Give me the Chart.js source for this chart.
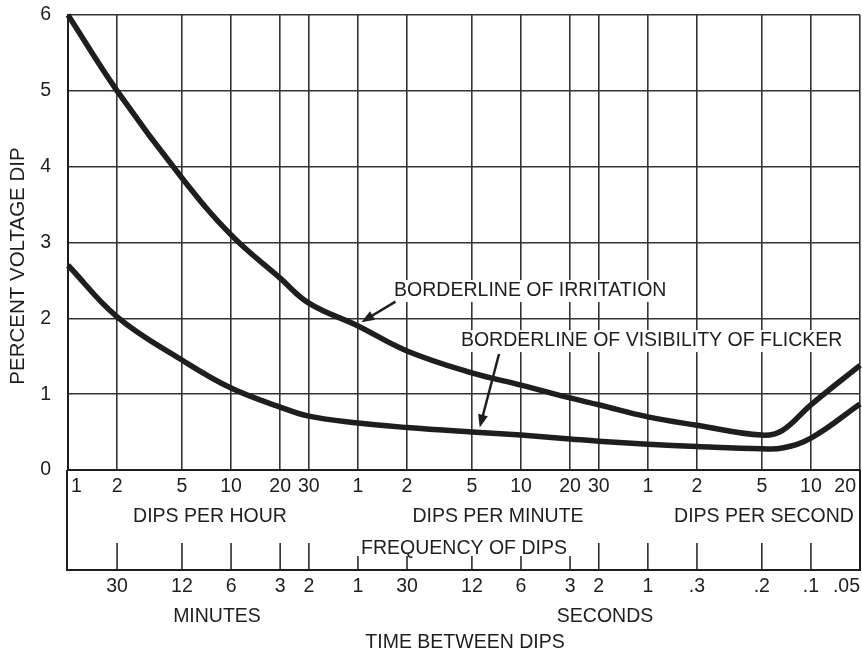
<!DOCTYPE html>
<html>
<head>
<meta charset="utf-8">
<script src="https://cdn.jsdelivr.net/npm/chart.js@4/dist/chart.umd.min.js"></script>
<style>
  html, body { margin: 0; padding: 0; background: #fff; }
  #wrap { width: 862px; height: 655px; position: relative; }
</style>
</head>
<body>
<div id="wrap"><canvas id="flickerChart"></canvas></div>
<script>
// frequency of dips, expressed in dips per hour
const freqTicks = [1, 2, 5, 10, 20, 30, 60, 120, 300, 600, 1200, 1800, 3600, 7200, 18000, 36000, 72000];
const freqLabels = ['1', '2', '5', '10', '20', '30', '1', '2', '5', '10', '20', '30', '1', '2', '5', '10', '20'];

// time between dips, marked on the same positions
const timeTicks = [2, 5, 10, 20, 30, 60, 120, 300, 600, 1200, 1800, 3600, 7200, 18000, 36000, 72000];
const timeLabels = ['30', '12', '6', '3', '2', '1', '30', '12', '6', '3', '2', '1', '.3', '.2', '.1', '.05'];

const yTicks = [0, 1, 2, 3, 4, 5, 6];

// curves (x in dips per hour, y in percent voltage dip)
const curveX = [1, 2, 5, 10, 20, 30, 60, 120, 300, 600, 1200, 1800, 3600, 7200, 18000, 24000, 36000, 72000];
const irritation = [6.0, 5.0, 3.85, 3.10, 2.53, 2.20, 1.9, 1.57, 1.28, 1.12, 0.95, 0.86, 0.70, 0.59, 0.46, 0.52, 0.86, 1.38];
const visibility = [2.70, 2.02, 1.45, 1.08, 0.83, 0.71, 0.62, 0.56, 0.50, 0.46, 0.41, 0.38, 0.34, 0.31, 0.28, 0.29, 0.42, 0.87];

const FONT = "'Liberation Sans', Arial, sans-serif";
const INK = '#1e1e1e';

function toPoints(ys) {
  return curveX.map((x, i) => ({ x: x, y: ys[i] }));
}

function arrow(ctx, x1, y1, x2, y2) {
  const a = Math.atan2(y2 - y1, x2 - x1);
  ctx.beginPath();
  ctx.moveTo(x1, y1);
  ctx.lineTo(x2 - 6 * Math.cos(a), y2 - 6 * Math.sin(a));
  ctx.stroke();
  ctx.beginPath();
  ctx.moveTo(x2, y2);
  ctx.lineTo(x2 - 13 * Math.cos(a) + 5 * Math.sin(a), y2 - 13 * Math.sin(a) - 5 * Math.cos(a));
  ctx.lineTo(x2 - 13 * Math.cos(a) - 5 * Math.sin(a), y2 - 13 * Math.sin(a) + 5 * Math.cos(a));
  ctx.closePath();
  ctx.fill();
}

function boxedText(ctx, text, x, y) {
  const w = ctx.measureText(text).width;
  ctx.fillStyle = '#fff';
  ctx.fillRect(x - 4, y - 11, w + 8, 22);
  ctx.fillStyle = INK;
  ctx.fillText(text, x, y);
}

// labels on the curves, anchored in data units
const notes = {
  id: 'notes',
  beforeDatasetsDraw(chart) {
    const { ctx, scales: { x, y } } = chart;
    ctx.save();
    ctx.font = '19.5px ' + FONT;
    ctx.textBaseline = 'middle';
    ctx.textAlign = 'left';
    boxedText(ctx, 'BORDERLINE OF IRRITATION', x.getPixelForValue(100), y.getPixelForValue(2.36));
    boxedText(ctx, 'BORDERLINE OF VISIBILITY OF FLICKER', x.getPixelForValue(257), y.getPixelForValue(1.70));
    ctx.strokeStyle = INK;
    ctx.fillStyle = INK;
    ctx.lineWidth = 2.5;
    arrow(ctx, x.getPixelForValue(102), y.getPixelForValue(2.22), x.getPixelForValue(63), y.getPixelForValue(1.95));
    arrow(ctx, x.getPixelForValue(440), y.getPixelForValue(1.53), x.getPixelForValue(335), y.getPixelForValue(0.56));
    ctx.restore();
  }
};

// frequency / time strip under the plot
const strip = {
  id: 'strip',
  afterDraw(chart) {
    const { ctx, chartArea: area, scales: { x } } = chart;
    const top = area.bottom;
    const bottom = top + 100;
    ctx.save();
    ctx.strokeStyle = INK;
    ctx.fillStyle = INK;
    ctx.lineWidth = 2;
    ctx.beginPath();
    ctx.moveTo(area.left - 1, top);
    ctx.lineTo(area.left - 1, bottom);
    ctx.lineTo(area.right, bottom);
    ctx.lineTo(area.right, top);
    ctx.stroke();

    // tick marks for time between dips
    ctx.lineWidth = 1.5;
    timeTicks.forEach(v => {
      const px = x.getPixelForValue(v);
      ctx.beginPath();
      ctx.moveTo(px, top + 73);
      ctx.lineTo(px, bottom);
      ctx.stroke();
    });

    ctx.textBaseline = 'middle';
    ctx.font = '19.5px ' + FONT;
    freqTicks.forEach((v, i) => {
      const px = x.getPixelForValue(v);
      if (i === 0) { ctx.textAlign = 'left'; ctx.fillText(freqLabels[i], px + 3, top + 17); }
      else if (i === freqTicks.length - 1) { ctx.textAlign = 'right'; ctx.fillText(freqLabels[i], px - 4, top + 17); }
      else { ctx.textAlign = 'center'; ctx.fillText(freqLabels[i], px, top + 17); }
    });
    timeTicks.forEach((v, i) => {
      const px = x.getPixelForValue(v);
      if (i === timeTicks.length - 1) { ctx.textAlign = 'right'; ctx.fillText(timeLabels[i], px, top + 117); }
      else { ctx.textAlign = 'center'; ctx.fillText(timeLabels[i], px, top + 117); }
    });

    ctx.textAlign = 'center';
    ctx.fillText('DIPS PER HOUR', 210, top + 47);
    ctx.fillText('DIPS PER MINUTE', 498, top + 47);
    ctx.fillText('DIPS PER SECOND', 764, top + 47);
    const fq = 'FREQUENCY OF DIPS';
    const fw = ctx.measureText(fq).width;
    ctx.fillStyle = '#fff';
    ctx.fillRect(464 - fw / 2 - 5, top + 68, fw + 10, 18);
    ctx.fillStyle = INK;
    ctx.fillText(fq, 464, top + 79);
    ctx.fillText('MINUTES', 217, top + 147);
    ctx.fillText('SECONDS', 605, top + 147);
    ctx.fillText('TIME BETWEEN DIPS', 465, top + 173);

    // y axis title
    ctx.font = '20.5px ' + FONT;
    ctx.translate(18, 266);
    ctx.rotate(-Math.PI / 2);
    ctx.fillText('PERCENT VOLTAGE DIP', 0, 0);
    ctx.restore();
  }
};

const lineStyle = {
  borderColor: INK,
  borderWidth: 5.5,
  pointRadius: 0,
  fill: false,
  tension: 0.4,
  clip: 6
};

new Chart(document.getElementById('flickerChart').getContext('2d'), {
  type: 'line',
  data: {
    datasets: [
      Object.assign({ label: 'Borderline of irritation', data: toPoints(irritation) }, lineStyle),
      Object.assign({ label: 'Borderline of visibility of flicker', data: toPoints(visibility) }, lineStyle)
    ]
  },
  options: {
    responsive: true,
    maintainAspectRatio: false,
    animation: false,
    layout: { padding: { top: 15, right: 2, left: 0, bottom: 0 } },
    plugins: { legend: { display: false }, tooltip: { enabled: false } },
    scales: {
      x: {
        type: 'logarithmic',
        min: freqTicks[0],
        max: freqTicks[freqTicks.length - 1],
        afterBuildTicks: s => { s.ticks = freqTicks.map(v => ({ value: v })); },
        afterFit: s => { s.height = 185; s.paddingLeft = 0; s.paddingRight = 0; },
        ticks: { display: false },
        grid: { color: '#333', lineWidth: 1.6, drawTicks: false },
        border: { color: INK, width: 2 }
      },
      y: {
        min: 0,
        max: 6,
        afterBuildTicks: s => { s.ticks = yTicks.map(v => ({ value: v })); },
        afterFit: s => { s.width = 68; s.paddingTop = 0; s.paddingBottom = 0; },
        ticks: { color: INK, font: { size: 19.5, family: FONT }, padding: 17 },
        grid: { color: '#333', lineWidth: 1.6, drawTicks: false },
        border: { color: INK, width: 2 }
      }
    }
  },
  plugins: [notes, strip]
});
</script>
</body>
</html>
